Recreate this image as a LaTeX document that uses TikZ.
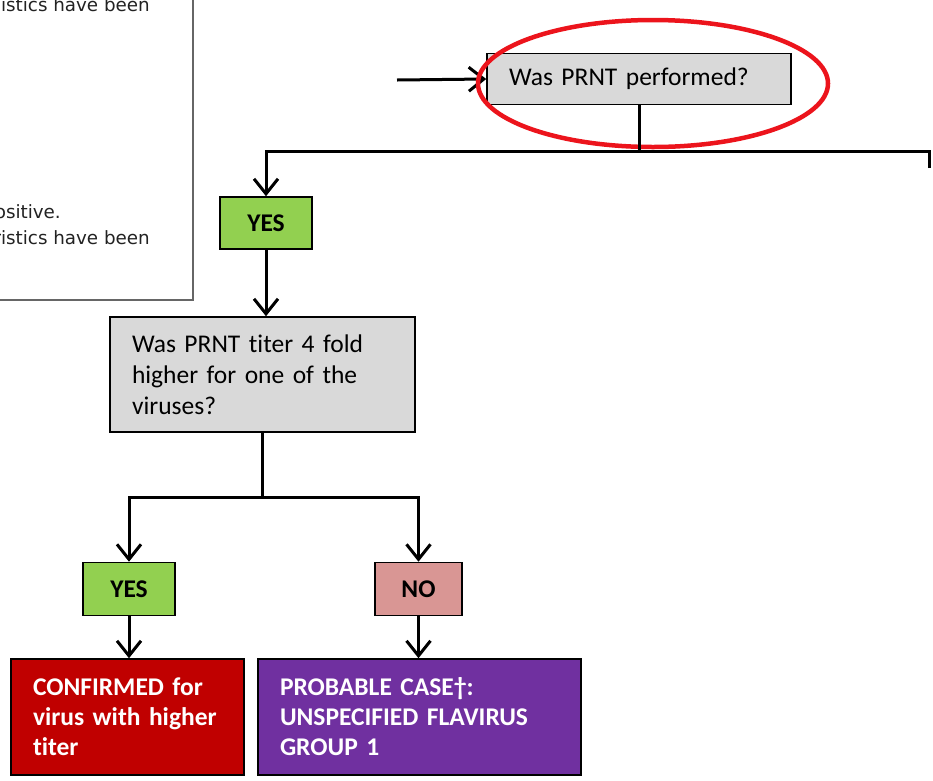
\documentclass[tikz,border=0pt]{standalone}
\usepackage{fontspec}
\setmainfont{Carlito}[Ligatures=NoCommon]
\newfontfamily\notefont{DejaVu Sans}
\usepackage{xcolor}
\usetikzlibrary{arrows.meta,positioning}
\definecolor{Qgray}{RGB}{217,217,217}
\definecolor{Ygreen}{RGB}{146,208,80}
\definecolor{Npink}{RGB}{217,150,148}
\definecolor{Cred}{RGB}{192,0,0}
\definecolor{Ppurple}{RGB}{112,48,160}
\definecolor{Ering}{RGB}{236,20,28}
\definecolor{Ntext}{RGB}{34,34,34}

\begin{document}
\begin{tikzpicture}[x=1pt, y=-1pt,
  box/.style={draw, line width=1.6pt, inner xsep=22pt, inner ysep=0pt, align=left, font=\fontsize{25.5}{31}\selectfont},
  qbox/.style={box, fill=Qgray},
  ans/.style={draw, line width=1.6pt, inner sep=0pt, align=center, font=\bfseries\fontsize{25.5}{31}\selectfont, minimum height=53pt},
  endbox/.style={box, text=white, font=\bfseries\fontsize{25.5}{30}\selectfont, minimum height=116pt},
  note/.style={anchor=base east, inner sep=0pt, text=Ntext, font=\notefont\fontsize{18.3}{22}\selectfont},
  flow/.style={line width=3pt, -{Straight Barb[length=15pt, width=24pt]}},
  link/.style={line width=3pt}
]
  \useasboundingbox (0,0) rectangle (933,780);

  % cut-off note panel on the left
  \begin{scope}
    \clip (0,0) rectangle (933,780);
    \draw[draw=black!60, line width=1.5pt] (-20,-20) rectangle (193,300);
    \node[note] (n1) at (150,11) {istics have been};
    \node[note] (n2) at (61,218) {ositive.};
    \node[note] (n3) at (150,244) {ristics have been};
  \end{scope}

  % first question
  \node[qbox, text width=260pt, minimum height=51pt] (prnt) at (639,79) {Was PRNT performed?};
  \coordinate (entry) at (397,80);
  \draw[flow] (entry) -- (prnt.west);
  \draw[draw=Ering, line width=4.5pt] (653,83.5) ellipse [x radius=175, y radius=63.5];

  \node[ans, fill=Ygreen, minimum width=92pt, minimum height=52pt] (yes1) at (266,223) {YES};
  \node[qbox, text width=261pt, minimum height=115pt] (titer) at (262.5,374.5) {Was PRNT titer 4 fold\\higher for one of the\\viruses?};

  \coordinate (split1) at (639,151);
  \coordinate (right1) at (929,151);
  \coordinate (rightend) at (929,168);
  \draw[link] (prnt.south) -- (split1);
  \draw[flow] (rightend) -- (right1) -| (yes1.north);
  \draw[flow] (yes1.south) -- (yes1.south |- titer.north);

  % second question
  \node[ans, fill=Ygreen, minimum width=92pt] (yes2) at (129,589) {YES};
  \node[ans, fill=Npink, minimum width=87pt] (no2) at (418.5,589) {NO};
  \coordinate (split2) at (262.5,497);
  \draw[link] (titer.south) -- (split2);
  \draw[flow] (split2) -| (yes2.north);
  \draw[flow] (split2) -| (no2.north);

  % outcomes
  \node[endbox, fill=Cred, text width=189pt] (conf) at (127.5,717) {CONFIRMED for\\virus with higher\\titer};
  \node[endbox, fill=Ppurple, text width=279pt] (prob) at (419.5,717) {PROBABLE CASE\textdagger:\\UNSPECIFIED FLAVIRUS\\GROUP 1};
  \draw[flow] (yes2.south) -- (yes2.south |- conf.north);
  \draw[flow] (no2.south) -- (no2.south |- prob.north);
\end{tikzpicture}
\end{document}
